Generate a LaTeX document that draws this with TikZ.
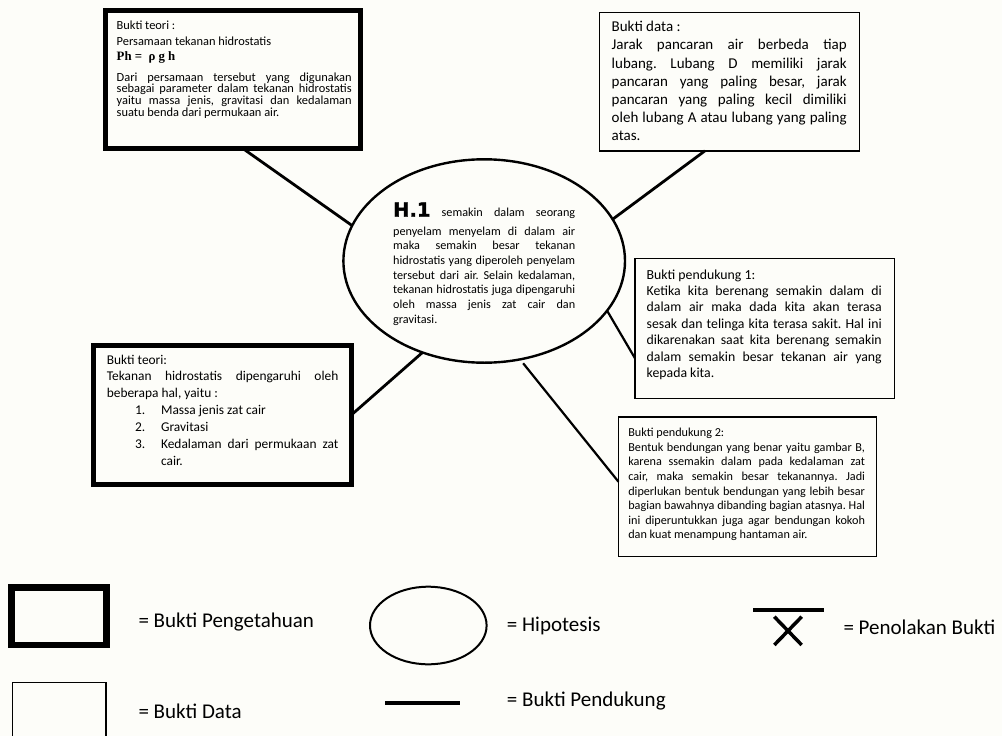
\documentclass[tikz,border=0pt]{standalone}
\usepackage{fontspec}
\setmainfont{Carlito}
\newfontfamily\phfont{Liberation Serif}
\newfontfamily\hfont{DejaVu Sans}[BoldFeatures={FakeBold=2}]
\usetikzlibrary{shapes.geometric}
\frenchspacing
\newcommand\jl[1]{\hbox to\linewidth{#1}}
\newcommand\nl[1]{\hbox{#1}}
% #1 height, #2 width, #3 left pad, #4 first baseline from top, #5 text width, #6 lines
\newcommand\inbox[6]{\parbox[c][#1][t]{#2}{\hspace*{#3}\rule{0pt}{#4}\parbox[t]{#5}{#6}}}
\definecolor{bgc}{HTML}{FDFDF9}
\tikzset{
  kbox/.style={draw, line width=5pt, anchor=north west, inner sep=0pt, outer sep=0pt},
  dbox/.style={draw, line width=1.4pt, anchor=north west, inner sep=0pt, outer sep=0pt},
  hyp/.style={ellipse, draw, line width=2.4pt, inner sep=0pt, outer sep=0pt},
  link/.style={line width=2.8pt},
  linkb/.style={line width=2.2pt},
  leg/.style={anchor=base west, inner sep=0pt, font=\fontsize{21}{25}\selectfont}
}
\begin{document}
\begin{tikzpicture}[x=1pt,y=-1pt]
\useasboundingbox (0,0) rectangle (1002,736);
\fill[bgc] (0,0) rectangle (1002,736);

% Top-left: Bukti teori (thick)
\node[kbox, font=\fontsize{12.4}{11.8}\selectfont] (tl) at (105.5,10.8)
 {\inbox{137.2pt}{255.3pt}{11.2pt}{18.5pt}{235pt}{%
  \nl{Bukti teori :}\vskip3.9pt
  \nl{Persamaan tekanan hidrostatis}\vskip3.2pt
  \nl{\phfont\bfseries\fontsize{12.8}{12.8}\selectfont Ph =\ \ ρ g h}\vskip9.2pt
  \jl{Dari persamaan tersebut yang digunakan}
  \jl{sebagai parameter dalam tekanan hidrostatis}
  \jl{yaitu massa jenis, gravitasi dan kedalaman}
  \nl{suatu benda dari permukaan air.}}};

% Top-right: Bukti data (thin)
\node[dbox, font=\fontsize{15}{18.2}\selectfont] (tr) at (599.2,12.5)
 {\inbox{138.3pt}{260pt}{12.5pt}{19.2pt}{235pt}{%
  \nl{Bukti data :}
  \jl{Jarak pancaran air berbeda tiap}
  \jl{lubang. Lubang D memiliki jarak}
  \jl{pancaran yang paling besar, jarak}
  \jl{pancaran yang paling kecil dimiliki}
  \jl{oleh lubang A atau lubang yang paling}
  \nl{atas.}}};

% Hypothesis ellipse
\node[hyp, minimum width=281.6pt, minimum height=203.4pt, font=\fontsize{12.2}{14.7}\selectfont] (h) at (484.2,261)
 {\inbox{130pt}{182pt}{0pt}{20.7pt}{182pt}{%
  \jl{{\hfont\bfseries\fontsize{19.5}{19.5}\selectfont H.1} semakin dalam seorang}\vskip3.6pt
  \jl{penyelam menyelam di dalam air}
  \jl{maka semakin besar tekanan}
  \jl{hidrostatis yang diperoleh penyelam}
  \jl{tersebut dari air. Selain kedalaman,}
  \jl{tekanan hidrostatis juga dipengaruhi}
  \jl{oleh massa jenis zat cair dan}
  \nl{gravitasi.}}};

% Right: Bukti pendukung 1 (thin)
\node[dbox, font=\fontsize{13.8}{16.4}\selectfont] (b1) at (635,258.5)
 {\inbox{140pt}{259.2pt}{11.7pt}{20.5pt}{235pt}{%
  \nl{Bukti pendukung 1:}
  \jl{Ketika kita berenang semakin dalam di}
  \jl{dalam air maka dada kita akan terasa}
  \jl{sesak dan telinga kita terasa sakit. Hal ini}
  \jl{dikarenakan saat kita berenang semakin}
  \jl{dalam semakin besar tekanan air yang}
  \nl{kepada kita.}}};

% Left: Bukti teori (thick)
\node[kbox, font=\fontsize{13.4}{16.9}\selectfont] (lb) at (93.8,345.3)
 {\inbox{139.4pt}{257.5pt}{13pt}{18.7pt}{231.6pt}{%
  \nl{Bukti teori:}
  \jl{Tekanan hidrostatis dipengaruhi oleh}
  \nl{beberapa hal, yaitu :}
  \nl{\hbox to 54.3pt{\hspace*{28.3pt}1.\hfil}Massa jenis zat cair}
  \nl{\hbox to 54.3pt{\hspace*{28.3pt}2.\hfil}Gravitasi}
  \jl{\hbox to 54.3pt{\hspace*{28.3pt}3.\hfil}Kedalaman dari permukaan zat}
  \nl{\hbox to 54.3pt{\hfil}cair.}}};

% Right: Bukti pendukung 2 (thin)
\node[dbox, font=\fontsize{12.2}{14.6}\selectfont] (b2) at (618.5,417)
 {\inbox{139.5pt}{258pt}{9.8pt}{19.7pt}{236.7pt}{%
  \nl{Bukti pendukung 2:}
  \jl{Bentuk bendungan yang benar yaitu gambar B,}
  \jl{karena ssemakin dalam pada kedalaman zat}
  \jl{cair, maka semakin besar tekanannya. Jadi}
  \jl{diperlukan bentuk bendungan yang lebih besar}
  \jl{bagian bawahnya dibanding bagian atasnya. Hal}
  \jl{ini diperuntukkan juga agar bendungan kokoh}
  \nl{dan kuat menampung hantaman air.}}};

% Connectors
\draw[link] ([xshift=9pt]tl.south) -- (h.165.9);
\draw[link] ([xshift=-24.2pt]tr.south) -- (h.18.3);
\draw[linkb] (h.-22.2) -- ([yshift=-29.8pt]b1.west);
\draw[link] (h.-124) -- (lb.east);
\draw[linkb, shorten <=5pt] (h.-70) -- ([yshift=5pt]b2.west);

% Legend
\draw[line width=6.5pt] (11.7,587.7) rectangle (106.7,645);
\node[leg] (lg1) at (138.3,627.7) {= Bukti Pengetahuan};
\draw[line width=1.6pt] (12.5,745) -- (12.5,682.3) -- (106.2,682.3) -- (106.2,745);
\node[leg] (lg2) at (138.3,718.3) {= Bukti Data};
\draw[line width=2pt] (428.3,625.5) ellipse [x radius=58.3, y radius=38.8];
\node[leg] (lg3) at (506.7,631.7) {= Hipotesis};
\draw[line width=4pt] (385,702.7) -- (460,702.7);
\node[leg] (lg4) at (506.7,706.7) {= Bukti Pendukung};
\draw[line width=3.6pt] (753.3,610) -- (824,610);
\draw[line width=3.5pt] (774.3,616.7) -- (801.7,645) (801.7,616.7) -- (774.3,645);
\node[leg] (lg5) at (843.3,634.3) {= Penolakan Bukti};
\end{tikzpicture}
\end{document}
